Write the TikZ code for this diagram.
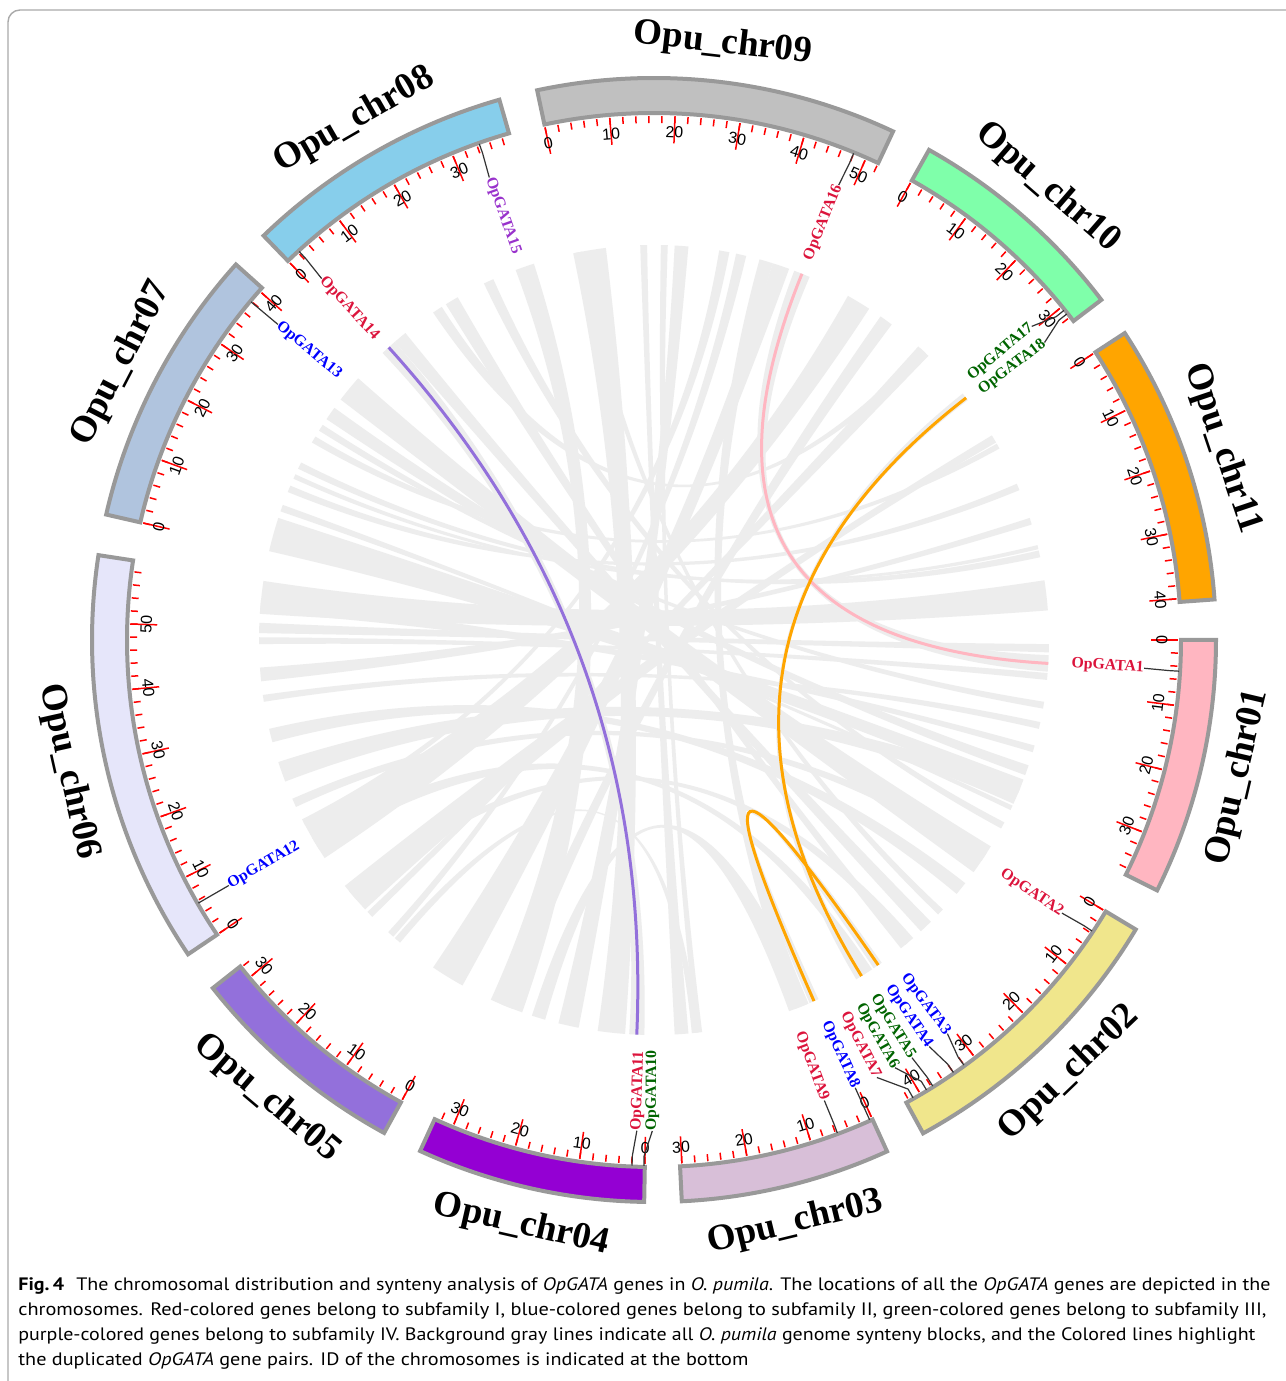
\documentclass[tikz,border=0pt]{standalone}
\usepackage{fontspec}
\usepackage{graphicx}
\setmainfont{Liberation Serif}
\newfontfamily\tickfont{Liberation Sans}
\newfontfamily\capfont{PT Sans}
\definecolor{ribgray}{RGB}{237,237,237}
\definecolor{chrline}{RGB}{153,153,153}
\definecolor{gred}{RGB}{220,20,60}
\definecolor{gblue}{RGB}{0,0,255}
\definecolor{ggreen}{RGB}{0,100,0}
\definecolor{gpurple}{RGB}{153,50,204}
\definecolor{lpurple}{RGB}{147,112,219}
\definecolor{lpink}{RGB}{255,182,193}
\definecolor{lorange}{RGB}{255,165,0}
\definecolor{cA}{RGB}{255,182,193}
\definecolor{cB}{RGB}{240,230,140}
\definecolor{cC}{RGB}{216,191,216}
\definecolor{cD}{RGB}{148,0,211}
\definecolor{cE}{RGB}{147,112,219}
\definecolor{cF}{RGB}{230,230,250}
\definecolor{cG}{RGB}{176,196,222}
\definecolor{cH}{RGB}{135,206,235}
\definecolor{cI}{RGB}{192,192,192}
\definecolor{cJ}{RGB}{127,255,170}
\definecolor{cK}{RGB}{255,165,0}
\definecolor{framecol}{RGB}{170,170,170}
\newcommand\LR{395}
\newcommand\LRt{131.67}
\newcommand\rib[4]{\fill[ribbon] (#1:\LR) arc[start angle=#1, end angle=#2, radius=\LR] .. controls (#2:\LRt) and (#3:\LRt) .. (#3:\LR) arc[start angle=#3, end angle=#4, radius=\LR] .. controls (#4:\LRt) and (#1:\LRt) .. cycle;}
% #1 id, #2 start angle, #3 length, #4 colour, #5 last labelled tick
\newcommand\chromo[5]{%
  \pgfmathsetmacro\ea{#2-0.715*#3}%
  \draw[chrbox, fill=#4] (#2:527) arc[start angle=#2, end angle=\ea, radius=527] -- (\ea:562) arc[start angle=\ea, end angle=#2, radius=562] -- cycle;
  \pgfmathtruncatemacro\nmin{floor(#3/2)*2}%
  \foreach \m in {0,2,...,\nmin} {\draw[tickline] ({#2-0.715*\m}:517) -- ({#2-0.715*\m}:524);}
  \foreach \m in {0,10,...,#5} {
    \pgfmathsetmacro\ta{#2-0.715*\m}
    \pgfmathsetmacro\tn{mod(\ta+720,360)}
    \pgfmathsetmacro\rot{\tn<180 ? \tn-90 : \tn+90}
    \draw[tickline] (\ta:497) -- (\ta:524);
    \node[ticklab, rotate=\rot] (t#1m\m) at (\ta:508) {\m};
  }
  \pgfmathsetmacro\ma{#2-0.715*#3/2}%
  \pgfmathsetmacro\mn{mod(\ma+720,360)}%
  \pgfmathsetmacro\mrot{\mn<180 ? \mn-90 : \mn+90}%
  \node[chrname, rotate=\mrot] (chr#1) at (\ma:600) {Opu\_chr#1};
}
% #1 id, #2 gene angle, #3 label angle, #4 colour, #5 text
\newcommand\gene[5]{%
  \pgfmathtruncatemacro\gside{(mod(#3+720,360)<90 || mod(#3+720,360)>270) ? 1 : 0}%
  \coordinate (#1p) at (#2:526);
  \coordinate (#1q) at (#2:516);
  \ifnum\gside=1
    \node[genelab, text=#4, rotate=#3, anchor=east] (#1) at (#3:491) {#5};
    \draw[genelink] (#1p) -- (#1q) -- (#1.east);
  \else
    \pgfmathsetmacro\grot{#3+180}%
    \node[genelab, text=#4, rotate=\grot, anchor=west] (#1) at (#3:491) {#5};
    \draw[genelink] (#1p) -- (#1q) -- (#1.west);
  \fi}
\begin{document}
\begin{tikzpicture}[x=0.5pt,y=0.5pt,
  ribbon/.style={fill=ribgray},
  chrbox/.style={draw=chrline, line width=2pt, line join=miter},
  tickline/.style={draw=red, line width=0.75pt},
  ticklab/.style={font=\tickfont\fontsize{8}{8}\selectfont, inner sep=0pt},
  chrname/.style={font=\bfseries\fontsize{18.5}{18.5}\selectfont, inner sep=0pt},
  genelab/.style={font=\bfseries\fontsize{7.9}{7.9}\selectfont, inner sep=0pt},
  genelink/.style={draw=black!80, line width=0.6pt},
  link/.style={line width=1.5pt},
  capline/.style={font=\capfont\fontsize{9}{11}\selectfont, inner sep=0pt, anchor=base west}]
\useasboundingbox (-654,-741) rectangle (631,640);
\fill[white] (-654,-741) rectangle (631,640);
\draw[framecol, line width=0.7pt, rounded corners=6pt] (-646,-800) -- (-646,630) -- (700,630);
% background synteny ribbons
\rib{171.4}{176.2}{4.3}{8.7}
\rib{177.5}{179}{-1.8}{-0.6}
\rib{179.6}{180.6}{-5.8}{-4.8}
\rib{162}{167}{-23}{-20.7}
\rib{153.3}{154.3}{12.1}{13.1}
\rib{155.2}{155.9}{13.3}{13.9}
\rib{157}{158}{22.3}{23.3}
\rib{149}{150}{29}{29.8}
\rib{138.5}{142.5}{-36}{-31.5}
\rib{129}{131}{-47.5}{-45.5}
\rib{119.8}{121.8}{-51.3}{-50}
\rib{-152.5}{-146.5}{57}{60.6}
\rib{-141.5}{-137}{30}{31.2}
\rib{-136.5}{-135.5}{46}{48}
\rib{97}{101.8}{-98.2}{-94.2}
\rib{107.7}{110.5}{-114.4}{-109.5}
\rib{91}{92}{-87}{-85}
\rib{76.5}{78}{-132.3}{-131.3}
\rib{-162}{-159}{-24.5}{-22}
\rib{-156.3}{-155}{-34}{-32.5}
\rib{-131}{-130}{-84.5}{-83.5}
\rib{-124}{-119}{70}{72.5}
\rib{-108}{-106}{-70}{-67}
\rib{-84}{-83}{88}{89}
\rib{122.5}{124}{46.5}{47.5}
\rib{144}{146}{-20}{-18.5}
\rib{-176}{-174}{17}{18}
\rib{-167}{-165}{-40}{-38}
\rib{-150}{-148}{-58}{-56.5}
\rib{-140.5}{-139}{-50.5}{-49}
\rib{-69}{-67}{72.5}{74.5}
\rib{85}{87}{-104}{-101}
\rib{-113}{-111}{53}{55}
\rib{160}{161}{-25.5}{-24.8}
\rib{147}{148}{-10}{-9}
\rib{-172}{-171}{-13}{-12}
\rib{100.5}{101.5}{-44}{-43}
\rib{79}{80.5}{-153}{-152}
\rib{114}{115.5}{-28.5}{-27.5}
\rib{-186}{-184}{-16.5}{-15.5}
\rib{66.8}{69.2}{-4.6}{-2.2}
\rib{131}{133.4}{-93.6}{-91.4}
\rib{37.4}{38.6}{-59.2}{-57.8}
\rib{-66.8}{-65.4}{-56.2}{-54.8}
% highlighted duplicated pairs
\coordinate (k16) at (68:\LR);
\coordinate (k1) at (-3.4:\LR);
\coordinate (k14) at (132.2:\LR);
\coordinate (k11) at (-92.5:\LR);
\coordinate (k17) at (37.8:\LR);
\coordinate (k5) at (-58.3:\LR);
\coordinate (k8) at (-66.1:\LR);
\coordinate (k4) at (-55.4:\LR);
\draw[link, lpink] (k16) .. controls (68:\LRt) and (-3.4:\LRt) .. (k1);
\draw[link, lpurple] (k14) .. controls (132.2:\LRt) and (-92.5:\LRt) .. (k11);
\draw[link, lorange] (k17) .. controls (37.8:\LRt) and (-58.3:\LRt) .. (k5);
\draw[link, lorange] (k8) .. controls (-66.1:\LRt) and (-55.4:\LRt) .. (k4);
% chromosomes
\chromo{01}{0}{37}{cA}{30}
\chromo{02}{-31}{42.5}{cB}{40}
\chromo{03}{-65.5}{30.3}{cC}{30}
\chromo{04}{-91}{33}{cD}{30}
\chromo{05}{-118.7}{32.2}{cE}{30}
\chromo{06}{-146}{59.7}{cF}{50}
\chromo{07}{167.1}{40.6}{cG}{40}
\chromo{08}{134}{39.2}{cH}{30}
\chromo{09}{102}{52}{cI}{50}
\chromo{10}{60.7}{32.8}{cJ}{30}
\chromo{11}{33.1}{40.5}{cK}{40}
% genes
\gene{g1}{-3.4}{-3.3}{gred}{OpGATA1}
\gene{g2}{-33.6}{-33.8}{gred}{OpGATA2}
\gene{g3}{-53.9}{-53.3}{gblue}{OpGATA3}
\gene{g4}{-55.3}{-55.9}{gblue}{OpGATA4}
\gene{g5}{-58.0}{-58.3}{ggreen}{OpGATA5}
\gene{g6}{-58.8}{-60.6}{ggreen}{OpGATA6}
\gene{g7}{-60.5}{-63}{gred}{OpGATA7}
\gene{g8}{-65.8}{-65.8}{gblue}{OpGATA8}
\gene{g9}{-69.6}{-69.7}{gred}{OpGATA9}
\gene{g10}{-91.1}{-90.2}{ggreen}{OpGATA10}
\gene{g11}{-92.4}{-92}{gred}{OpGATA11}
\gene{g12}{-150}{-150}{gblue}{OpGATA12}
\gene{g13}{140}{140}{gblue}{OpGATA13}
\gene{g14}{132.4}{132.6}{gred}{OpGATA14}
\gene{g15}{109.4}{109.6}{gpurple}{OpGATA15}
\gene{g16}{67.7}{67.9}{gred}{OpGATA16}
\gene{g17}{38.8}{39.7}{ggreen}{OpGATA17}
\gene{g18}{38.3}{37.3}{ggreen}{OpGATA18}
% caption
\node[capline] (cap1) at (-636,-650) {\resizebox{626pt}{\height}{\textbf{Fig.\,4}\hspace{0.6em}The chromosomal distribution and synteny analysis of \textit{OpGATA} genes in \textit{O.~pumila}. The locations of all the \textit{OpGATA} genes are depicted in the}};
\node[capline] (cap2) at (-636,-675) {\resizebox{624pt}{\height}{chromosomes. Red-colored genes belong to subfamily I, blue-colored genes belong to subfamily II, green-colored genes belong to subfamily III,}};
\node[capline] (cap3) at (-636,-700) {\resizebox{618.5pt}{\height}{purple-colored genes belong to subfamily IV. Background gray lines indicate all \textit{O.~pumila} genome synteny blocks, and the Colored lines highlight}};
\node[capline] (cap4) at (-636,-725) {\resizebox{365pt}{\height}{the duplicated \textit{OpGATA} gene pairs. ID of the chromosomes is indicated at the bottom}};
\end{tikzpicture}
\end{document}
